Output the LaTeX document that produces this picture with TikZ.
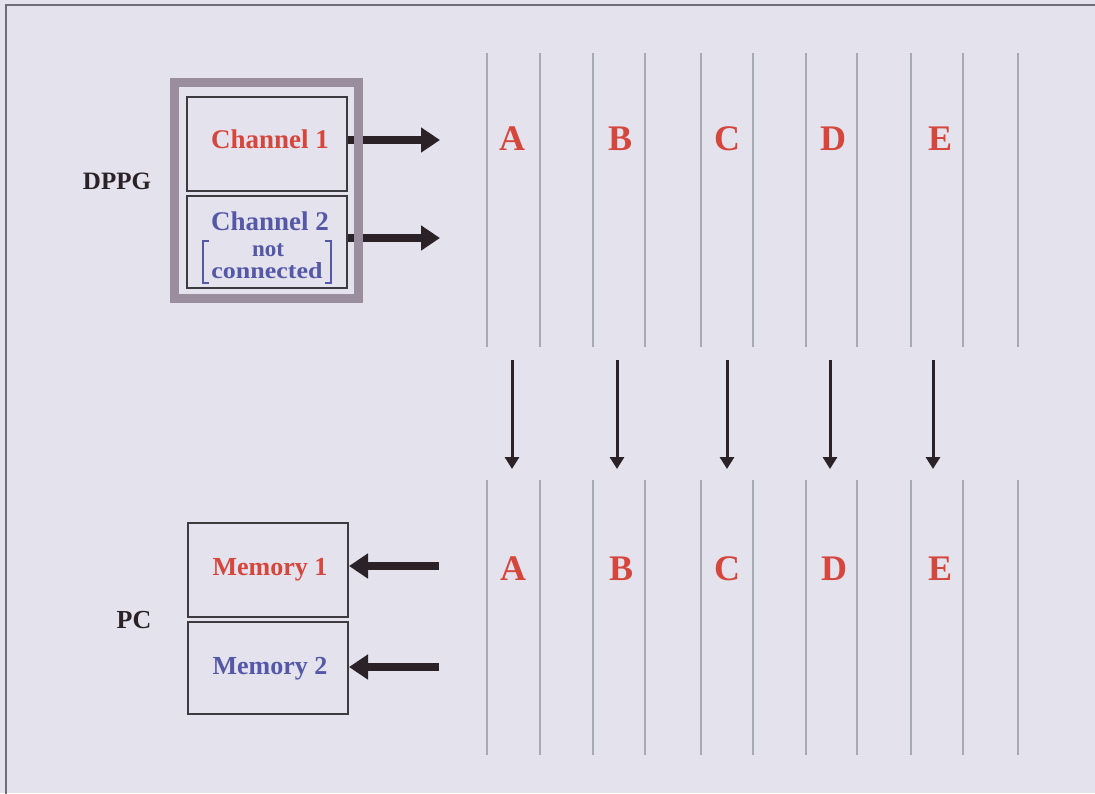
\documentclass[tikz,border=0pt]{standalone}
\usepackage{fontspec}
\setmainfont{Liberation Serif}
\usetikzlibrary{arrows.meta}

\definecolor{paper}{HTML}{E3E2ED}
\definecolor{frameline}{HTML}{6F6E78}
\definecolor{txtred}{HTML}{D5463D}
\definecolor{txtblue}{HTML}{5458A6}
\definecolor{mauve}{HTML}{9A8D9D}
\definecolor{boxline}{HTML}{3E3B40}
\definecolor{rule}{HTML}{A9A8B5}
\definecolor{ink}{HTML}{2A2226}

\tikzset{
  % text placed by its baseline
  lbl/.style={inner sep=0pt, anchor=base,
              font=\bfseries\fontsize{#1}{#1}\selectfont},
  lbl/.default=26,
  unitbox/.style={draw=boxline, line width=2pt, inner sep=0pt,
                  minimum width=160pt, minimum height=#1},
  unitbox/.default=93pt,
  track/.style={draw=rule, line width=2.4pt},
  bigarrow/.style={draw=ink, line width=8pt,
                   -{Triangle[length=19pt,width=24pt]}},
  droparrow/.style={draw=ink, line width=3pt,
                    -{Triangle[length=12pt,width=14pt]}},
  bracket/.style={draw=txtblue, line width=2.4pt}
}

\begin{document}
\begin{tikzpicture}[x=1pt,y=-1pt]
  % canvas and outer frame
  \fill[paper] (0,0) rectangle (1095,793);
  \useasboundingbox (0,0) rectangle (1095,793);
  \draw[frameline, line width=2pt] (6,800) -- (6,5) -- (1100,5);

  % track rules of the upper and lower rows
  \foreach \x in {487,540,593,645,701,753,806,857,911,963,1018}{
    \draw[track] (\x,53) -- (\x,347);
    \draw[track] (\x,480) -- (\x,755);
  }

  % DPPG side
  \node[unitbox=94pt] (ch1) at (267,144) {};
  \node[unitbox=92pt] (ch2) at (267,242) {};
  \node[lbl=27, text=txtred] (ch1txt) at (270,148) {Channel 1};
  \node[lbl=27, text=txtblue] (ch2txt) at (270,230) {Channel 2};
  \node[lbl=23, text=txtblue] (nottxt) at (268,256) {not};
  \node[lbl=23, text=txtblue, xscale=1.13] (contxt) at (267,278) {connected};
  \draw[bracket] (209,241) -- (203,241) -- (203,283) -- (209,283);
  \draw[bracket] (325,241) -- (331,241) -- (331,283) -- (325,283);

  \coordinate (out1) at (440,140);
  \coordinate (out2) at (440,238);
  \draw[bigarrow] (ch1.east |- out1) -- (out1);
  \draw[bigarrow] (ch2.east |- out2) -- (out2);

  % enclosing generator box, drawn over the arrow roots
  \node[draw=mauve, line width=9pt, inner sep=0pt,
        minimum width=184pt, minimum height=216pt] (gen) at (266,190.5) {};
  \node[lbl=25, text=ink] (dppg) at (117,189) {DPPG};

  % PC side
  \node[unitbox=94pt] (mem1) at (268,570) {};
  \node[unitbox=92pt] (mem2) at (268,668) {};
  \node[lbl=26, text=txtred] (mem1txt) at (270,575) {Memory 1};
  \node[lbl=26, text=txtblue] (mem2txt) at (270,674) {Memory 2};
  \node[lbl=26, text=ink] (pc) at (134,628) {PC};

  \coordinate (in1) at (439,566);
  \coordinate (in2) at (439,667);
  \draw[bigarrow] (in1) -- (mem1.east |- in1);
  \draw[bigarrow] (in2) -- (mem2.east |- in2);

  % channel letters and the transfer arrows between the rows
  \foreach \n/\xt/\xb/\xa in {A/512/513/512, B/620/621/617, C/727/727/727,
                              D/833/834/830, E/940/940/933}{
    \node[lbl=36, text=txtred] (top\n) at (\xt,150) {\n};
    \node[lbl=36, text=txtred] (bot\n) at (\xb,580) {\n};
    \coordinate (from\n) at (\xa,360);
    \coordinate (to\n) at (\xa,469);
    \draw[droparrow] (from\n) -- (to\n);
  }
\end{tikzpicture}
\end{document}
